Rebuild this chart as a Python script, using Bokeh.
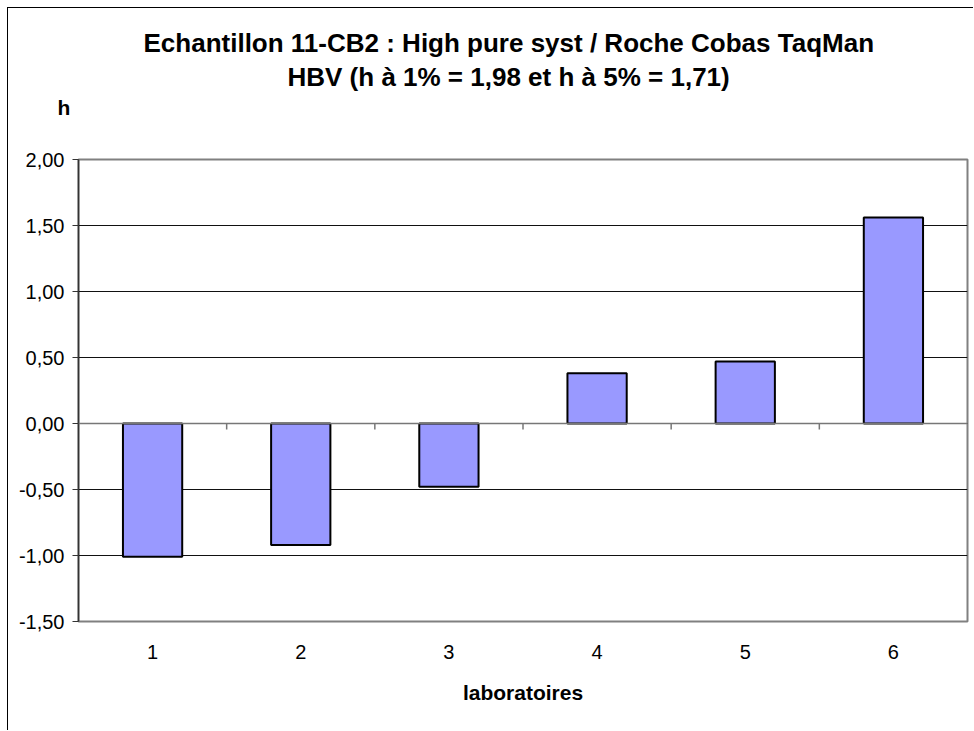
from bokeh.plotting import figure
from bokeh.models import FixedTicker, CustomJSTickFormatter, Span, Title, Range1d, ColumnDataSource
from bokeh.embed import file_html
from bokeh.resources import INLINE

# ---- data ----
laboratories = ["1", "2", "3", "4", "5", "6"]
h_values = [-1.01, -0.92, -0.48, 0.38, 0.47, 1.56]
y_ticks = [-1.5, -1.0, -0.5, 0.0, 0.5, 1.0, 1.5, 2.0]
title_lines = ["Echantillon 11-CB2 : High pure syst / Roche Cobas TaqMan",
               "HBV (h à 1% = 1,98 et h à 5% = 1,71)"]
x_title = "laboratoires"
y_title = "h"

FONT = "Liberation Sans"
n = len(laboratories)
xs = list(range(1, n + 1))

p = figure(width=966, height=723, x_range=Range1d(0.5, n + 0.5), y_range=Range1d(-1.5, 2.0),
           output_backend="svg", toolbar_location=None, title=None,
           min_border_left=70, min_border_right=7, min_border_top=151, min_border_bottom=110)
p.styles = {"border-left": "1px solid #000000", "border-top": "1px solid #000000"}
p.margin = (7, 0, 0, 7)
p.background_fill_color = "white"
p.border_fill_color = "white"
p.outline_line_color = "#808080"
p.outline_line_width = 2

# grid
p.xgrid.visible = False
p.ygrid.ticker = FixedTicker(ticks=y_ticks)
p.ygrid.grid_line_color = "#111111"
p.ygrid.grid_line_width = 1

# y axis
p.yaxis.ticker = FixedTicker(ticks=y_ticks)
p.yaxis.formatter = CustomJSTickFormatter(code="return tick.toFixed(2).replace('.', ',');")
p.yaxis.axis_line_color = "#333333"
p.yaxis.axis_line_width = 1.5
p.yaxis.major_tick_line_color = "#333333"
p.yaxis.major_tick_out = 6
p.yaxis.major_tick_in = 0
p.yaxis.minor_tick_line_color = None
p.yaxis.major_label_text_font = FONT
p.yaxis.major_label_text_font_size = "20px"
p.yaxis.major_label_text_color = "#000000"
p.yaxis.major_label_standoff = 8

# x axis (labels at bottom)
p.xaxis.ticker = FixedTicker(ticks=xs)
p.xaxis.major_label_overrides = {x: lab for x, lab in zip(xs, laboratories)}
p.xaxis.axis_line_color = None
p.xaxis.major_tick_line_color = None
p.xaxis.minor_tick_line_color = None
p.xaxis.major_label_text_font = FONT
p.xaxis.major_label_text_font_size = "20px"
p.xaxis.major_label_text_color = "#000000"
p.xaxis.major_label_standoff = 17
p.xaxis.axis_label = x_title
p.xaxis.axis_label_text_font = FONT
p.xaxis.axis_label_text_font_size = "21px"
p.xaxis.axis_label_text_font_style = "bold"
p.xaxis.axis_label_text_color = "#000000"
p.xaxis.axis_label_standoff = 19

# zero line + category separator ticks
p.add_layout(Span(location=0, dimension="width", line_color="#777777", line_width=1.5))
bounds = [x + 0.5 for x in xs[:-1]]
p.segment(x0=bounds, y0=[0] * len(bounds), x1=bounds, y1=[-0.045] * len(bounds),
          line_color="#777777", line_width=1.5)

# bars
src = ColumnDataSource(dict(x=xs, top=h_values))
p.vbar(x="x", top="top", bottom=0, width=0.4, source=src,
       fill_color="#9999FF", line_color="#000000", line_width=2)

# titles (first added = closest to the plot frame)
p.add_layout(Title(text=" ", align="left", standoff=26,
                   text_font=FONT, text_font_size="10px", text_color="#ffffff"), "above")
p.add_layout(Title(text=y_title, align="left", offset=-21, standoff=4,
                   text_font=FONT, text_font_size="21px", text_font_style="bold",
                   text_color="#000000"), "above")
p.add_layout(Title(text=title_lines[1], align="left", offset=209, standoff=0,
                   text_font=FONT, text_font_size="26px", text_font_style="bold",
                   text_color="#000000"), "above")
p.add_layout(Title(text=title_lines[0], align="left", offset=65, standoff=3,
                   text_font=FONT, text_font_size="26px", text_font_style="bold",
                   text_color="#000000"), "above")

open("out.html", "w").write(file_html(p, INLINE))
